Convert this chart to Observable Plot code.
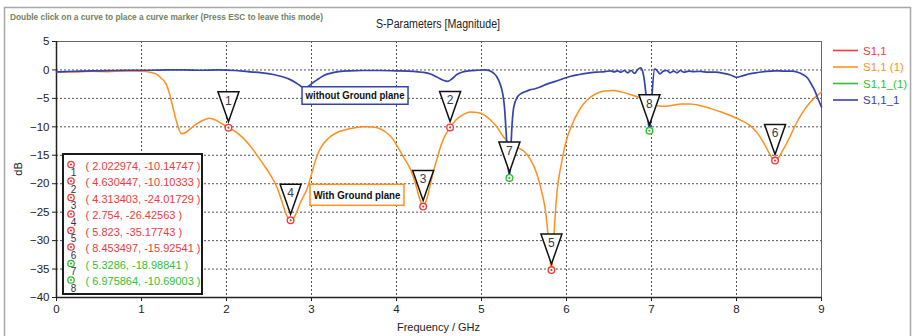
<!DOCTYPE html>
<html><head><meta charset="utf-8">
<script src="https://cdn.jsdelivr.net/npm/d3@7"></script>
<script src="https://cdn.jsdelivr.net/npm/@observablehq/plot@0.6"></script>
<style>
html,body{margin:0;padding:0;background:#fff;}
#chart{position:relative;width:915px;height:336px;overflow:hidden;}
</style></head><body><div id="chart"></div>
<script>
// ---------- data ----------
const xTicks = [0, 1, 2, 3, 4, 5, 6, 7, 8, 9];
const yTicks = [5, 0, -5, -10, -15, -20, -25, -30, -35, -40];

// S1,1 (1)  (with ground plane)
const orangeF = [0,0.2,0.4,0.6,0.8,1.0,1.1,1.17,1.23,1.29,1.33,1.37,1.42,1.47,1.52,1.57,1.65,1.73,1.80,1.87,1.94,2.022974,2.10,2.19,2.27,2.35,2.43,2.51,2.59,2.66,2.70,2.754,2.80,2.87,2.95,3.01,3.06,3.12,3.2,3.3,3.4,3.5,3.62,3.72,3.80,3.88,3.95,4.02,4.09,4.16,4.22,4.27,4.313403,4.36,4.40,4.44,4.48,4.52,4.57,4.630447,4.70,4.78,4.87,4.95,5.02,5.10,5.18,5.26,5.33,5.42,5.50,5.57,5.65,5.71,5.75,5.78,5.80,5.823,5.845,5.865,5.89,5.94,6.0,6.06,6.13,6.20,6.28,6.36,6.45,6.55,6.65,6.75,6.85,6.93,7.0,7.07,7.15,7.25,7.35,7.45,7.58,7.70,7.82,7.94,8.06,8.16,8.25,8.32,8.38,8.453497,8.50,8.55,8.62,8.70,8.78,8.86,8.94,9.0];
const orangeDb = [-0.3,-0.35,-0.25,-0.3,-0.2,-0.25,-0.4,-0.7,-1.4,-2.5,-4.2,-6.6,-9.5,-11.2,-11.0,-10.4,-9.5,-8.8,-8.5,-8.8,-9.4,-10.14747,-10.8,-11.9,-13.2,-14.8,-16.5,-18.3,-20.5,-23.5,-25.3,-26.42563,-25.8,-23.3,-20.8,-17.8,-15.3,-13.4,-12.0,-11.0,-10.5,-10.2,-10.0,-10.05,-10.3,-11.0,-12.0,-13.7,-15.5,-17.3,-19.8,-22.5,-24.01729,-22.5,-20.0,-17.5,-15.5,-13.4,-11.6,-10.10333,-8.8,-7.9,-7.4,-7.5,-7.8,-8.7,-10.0,-11.8,-12.9,-13.6,-14.3,-15.6,-18.2,-21.5,-24.5,-28.5,-32,-35.17743,-31,-26,-21.2,-16.5,-12.3,-9.8,-7.6,-6.0,-4.8,-4.1,-3.7,-3.6,-3.9,-4.3,-4.8,-5.3,-5.9,-6.3,-6.4,-6.2,-6.0,-6.0,-6.3,-6.8,-7.4,-8.1,-8.9,-9.8,-11.2,-12.8,-14.5,-15.92541,-15.3,-14.0,-12.0,-9.5,-7.4,-5.8,-4.6,-3.9];

// S1,1_1  (without ground plane)
const blueF = [0,0.1,0.3,0.5,0.7,0.9,1.1,1.3,1.5,1.7,1.9,2.1,2.25,2.42,2.55,2.66,2.75,2.81,2.86,2.92,2.97,3.02,3.08,3.14,3.22,3.32,3.45,3.6,3.8,4.0,4.2,4.3,4.4,4.48,4.55,4.60,4.65,4.71,4.78,4.85,4.95,5.05,5.12,5.18,5.22,5.25,5.27,5.29,5.31,5.3286,5.345,5.36,5.38,5.42,5.46,5.52,5.57,5.63,5.69,5.77,5.85,5.95,6.05,6.15,6.25,6.35,6.45,6.52,6.56,6.6,6.64,6.68,6.72,6.76,6.80,6.84,6.87,6.90,6.93,6.955,6.975864,6.995,7.01,7.04,7.07,7.10,7.14,7.18,7.22,7.26,7.30,7.34,7.38,7.44,7.50,7.58,7.66,7.75,7.85,7.93,8.0,8.08,8.15,8.25,8.35,8.45,8.55,8.65,8.72,8.78,8.84,8.88,8.92,8.96,9.0];
const blueDb = [-0.35,-0.3,-0.2,-0.15,-0.1,-0.05,-0.05,0,0,-0.05,0,-0.1,-0.3,-0.5,-0.8,-1.2,-1.7,-2.2,-2.7,-3.2,-2.8,-2.2,-1.6,-1.0,-0.6,-0.3,-0.15,-0.1,-0.1,-0.15,-0.25,-0.4,-0.7,-1.3,-1.8,-2.0,-1.6,-0.8,-0.35,-0.15,-0.05,0,-0.3,-1.2,-2.5,-4.2,-6.5,-11,-16,-18.98841,-14,-9.5,-6.5,-4.8,-4.2,-3.8,-3.5,-3.3,-3.0,-2.5,-2.1,-1.6,-1.1,-0.8,-0.55,-0.4,-0.3,-0.15,-0.35,-0.15,-0.4,-0.1,-0.5,-0.1,-0.6,0.1,0.35,-0.5,-3.6,-8,-10.69003,-8,-3.6,0.2,-0.2,-0.7,-0.2,-0.1,-0.5,-0.2,-0.5,-0.1,-0.4,-0.2,-0.3,-0.25,-0.4,-0.4,-0.6,-0.9,-1.3,-1.0,-0.7,-0.45,-0.25,-0.15,-0.2,-0.2,-0.4,-0.8,-1.5,-2.5,-3.6,-5.1,-6.5];

// curve markers
const markerIds = [1, 2, 3, 4, 5, 6, 7, 8];
const markerF = [2.022974, 4.630447, 4.313403, 2.754, 5.823, 8.453497, 5.3286, 6.975864];
const markerDb = [-10.14747, -10.10333, -24.01729, -26.42563, -35.17743, -15.92541, -18.98841, -10.69003];
const markerSeries = ["S1,1", "S1,1", "S1,1", "S1,1", "S1,1", "S1,1", "S1,1_(1)", "S1,1_(1)"];

// legend
const seriesNames = ["S1,1", "S1,1 (1)", "S1,1_(1)", "S1,1_1"];
const seriesColors = ["#f23a3a", "#ff8f1f", "#2fbf2f", "#3543ad"];

// curve annotations
const noteTexts = ["without Ground plane", "With Ground plane"];
const noteF = [3.518, 3.541];
const noteDb = [-4.58, -22.04];
const noteSeries = ["S1,1_1", "S1,1 (1)"];

const titleText = "S-Parameters [Magnitude]";
const hintText = "Double click on a curve to place a curve marker (Press ESC to leave this mode)";
const xLabel = "Frequency / GHz";
const yLabel = "dB";

// ---------- build ----------
const colorOf = name => seriesColors[seriesNames.indexOf(name)];
const orange = orangeF.map((f, i) => ({f, db: orangeDb[i]}));
const blue = blueF.map((f, i) => ({f, db: blueDb[i]}));
const markers = markerIds.map((id, i) => ({id, f: markerF[i], db: markerDb[i], color: colorOf(markerSeries[i])}));

const FONT = "'Liberation Sans', Arial, sans-serif";
const invTri = {draw(ctx) { ctx.moveTo(-10.5, -36); ctx.lineTo(10.5, -36); ctx.lineTo(0, -6); ctx.closePath(); }};

const plot = Plot.plot({
  width: 915, height: 336,
  marginLeft: 56, marginRight: 94, marginTop: 41, marginBottom: 39,
  style: {fontFamily: FONT, fontSize: "11px", color: "#222", background: "#fff", overflow: "visible"},
  x: {domain: [0, 9], label: null},
  y: {domain: [-40, 5], label: null},
  color: {type: "identity"},
  marks: [
    Plot.gridX(xTicks.slice(1, -1), {stroke: "#555", strokeOpacity: 1, strokeDasharray: "2,2"}),
    Plot.gridY(yTicks.slice(1, -1), {stroke: "#555", strokeOpacity: 1, strokeDasharray: "2,2"}),
    Plot.frame({stroke: "#666"}),
    Plot.ruleX([0], {stroke: "#222", strokeWidth: 1.5}),
    Plot.ruleY([-40], {stroke: "#222", strokeWidth: 1.5}),
    Plot.axisX(xTicks, {tickSize: 4, tickPadding: 3, stroke: "#222", fill: "#222", fontSize: 11.5}),
    Plot.axisY(yTicks, {tickSize: 4, tickPadding: 3, stroke: "#222", fill: "#222", fontSize: 11.5}),
    Plot.line(orange, {x: "f", y: "db", stroke: colorOf("S1,1 (1)"), strokeWidth: 1.5, curve: "monotone-x"}),
    Plot.line(blue, {x: "f", y: "db", stroke: colorOf("S1,1_1"), strokeWidth: 1.7, curve: "monotone-x"}),
    Plot.dot(markers, {x: "f", y: "db", symbol: invTri, r: 5, fill: "white", stroke: "#111", strokeWidth: 1.5}),
    Plot.text(markers, {x: "f", y: "db", text: "id", dy: -27, fontSize: 12, fill: "#3a3a48"}),
    Plot.dot(markers, {x: "f", y: "db", r: 3.3, fill: "white", stroke: "color", strokeWidth: 1.4}),
    Plot.dot(markers, {x: "f", y: "db", r: 1.1, fill: "color"})
  ]
});
document.getElementById("chart").appendChild(plot);

const svg = d3.select(plot);
const sx = plot.scale("x"), sy = plot.scale("y");
const L = sx.apply(0), R = sx.apply(9), T = sy.apply(5), B = sy.apply(-40);

// outer panel border
const g = svg.append("g").attr("font-family", FONT).attr("text-anchor", "start");
g.append("path").attr("d", `M4.5,336V7.5H910.5V336`).attr("fill", "none").attr("stroke", "#a8a8a8").attr("stroke-width", 1.5);

// hint text and title
g.append("text").attr("x", 10).attr("y", 19.5).attr("font-size", 8.6).attr("font-weight", "bold")
  .attr("text-anchor", "start")
  .attr("fill", "#72825f").attr("textLength", 313).attr("lengthAdjust", "spacingAndGlyphs").text(hintText);
g.append("text").attr("x", 438).attr("y", 27.5).attr("font-size", 12).attr("text-anchor", "middle")
  .attr("fill", "#222").attr("textLength", 124).attr("lengthAdjust", "spacingAndGlyphs").text(titleText);

// axis labels
g.append("text").attr("x", (L + R) / 2).attr("y", 331).attr("font-size", 11).attr("text-anchor", "middle")
  .attr("fill", "#222").text(xLabel);
g.append("text").attr("transform", `translate(22,${(T + B) / 2}) rotate(-90)`).attr("font-size", 11)
  .attr("text-anchor", "middle").attr("fill", "#222").text(yLabel);

// legend
seriesNames.forEach((name, i) => {
  const y = 50.5 + i * 16.5;
  g.append("line").attr("x1", 833).attr("x2", 858).attr("y1", y).attr("y2", y)
    .attr("stroke", seriesColors[i]).attr("stroke-width", 1.6);
  g.append("text").attr("x", 863).attr("y", y).attr("dy", "0.36em").attr("font-size", 11.5)
    .attr("text-anchor", "start").attr("fill", seriesColors[i]).text(name);
});

// curve annotations (boxes)
const noteH = [17.5, 21];
noteTexts.forEach((t, i) => {
  const cx = sx.apply(noteF[i]), cy = sy.apply(noteDb[i]);
  const tw = i === 0 ? 99 : 87;
  const bw = tw + 7, bh = noteH[i];
  g.append("rect").attr("x", cx - bw / 2).attr("y", cy - bh / 2).attr("width", bw).attr("height", bh)
    .attr("fill", "white").attr("stroke", colorOf(noteSeries[i])).attr("stroke-width", 1.5);
  g.append("text").attr("x", cx).attr("y", cy).attr("dy", "0.36em").attr("text-anchor", "middle")
    .attr("font-size", 11).attr("font-weight", "bold").attr("fill", "#111")
    .attr("textLength", tw).attr("lengthAdjust", "spacingAndGlyphs").text(t);
});

// marker readout box
const bx = L + 7, by = 154, bw = 139, bh = 140;
g.append("rect").attr("x", bx).attr("y", by).attr("width", bw).attr("height", bh)
  .attr("fill", "white").attr("stroke", "#1a1a1a").attr("stroke-width", 2);
markers.forEach((m, i) => {
  const y = 164.5 + i * 16.5;
  g.append("circle").attr("cx", bx + 8).attr("cy", y).attr("r", 3.2).attr("fill", "white")
    .attr("stroke", m.color).attr("stroke-width", 1.3);
  g.append("circle").attr("cx", bx + 8).attr("cy", y).attr("r", 1.1).attr("fill", m.color);
  g.append("text").attr("x", bx + 10.5).attr("y", y + 8).attr("dy", "0.36em").attr("text-anchor", "middle")
    .attr("font-size", 10).attr("fill", "#333344").text(m.id);
  g.append("text").attr("x", bx + 22.5).attr("y", y + 1.5).attr("dy", "0.36em").attr("font-size", 11)
    .attr("text-anchor", "start").attr("fill", m.color).text(`( ${m.f}, ${m.db} )`);
});
</script></body></html>
